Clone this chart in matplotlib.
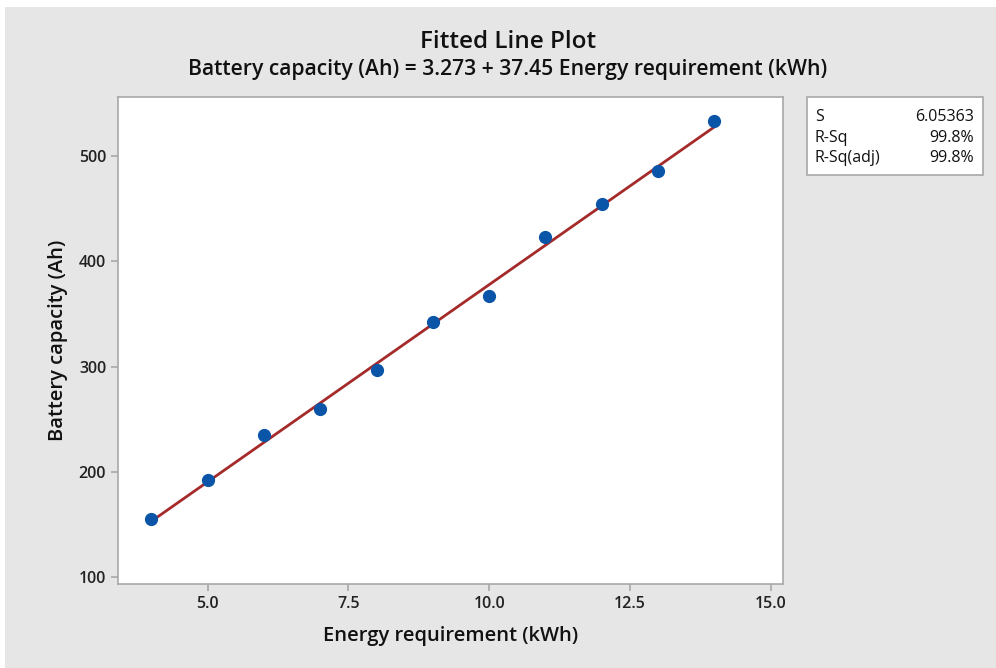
import matplotlib
matplotlib.use('Agg')
import matplotlib.pyplot as plt
from matplotlib.patches import Rectangle
import numpy as np

plt.rcParams['font.family'] = ['Open Sans', 'DejaVu Sans']

energy = [4, 5, 6, 7, 8, 9, 10, 11, 12, 13, 14]
capacity = [155.1, 192.1, 234.9, 259.5, 296.6, 342.2, 366.9, 422.9, 454.2, 485.6, 533.0]
b0, b1 = 3.273, 37.45
stats_names = ['S', 'R-Sq', 'R-Sq(adj)']
stats_vals = ['6.05363', '99.8%', '99.8%']
xticks = [5.0, 7.5, 10.0, 12.5, 15.0]
yticks = [100, 200, 300, 400, 500]

W, H = 996, 668
fig = plt.figure(figsize=(W / 100, H / 100), dpi=100, facecolor='white')
bg = '#e6e6e6'
fig.patches.append(Rectangle((5 / W, 0), 1 - 5 / W, 1 - 7 / H, transform=fig.transFigure,
                             facecolor=bg, edgecolor='none', zorder=-10))

# axes box in pixels: left 118, right 783, top 97, bottom 584
ax = fig.add_axes([118 / W, 1 - 584 / H, (783 - 118) / W, (584 - 97) / H])
ax.set_facecolor('white')
xs = np.array([min(energy), max(energy)])
ax.plot(xs, b0 + b1 * xs, color='#a52a2a', lw=2, zorder=2)
ax.plot(energy, capacity, 'o', color='#0a55a8', ms=8.5, zorder=3)

ax.set_xlim(3.405, 15.22)
ax.set_ylim(93.4, 556)
ax.set_xticks(xticks)
ax.set_xticklabels([f'{t:.1f}' for t in xticks])
ax.set_yticks(yticks)
for s in ax.spines.values():
    s.set_color('#a8a8a8'); s.set_linewidth(1.2)
ax.tick_params(colors='#a8a8a8', labelcolor='#222222', labelsize=11.5, length=5, width=1.2)
for lbl in ax.get_xticklabels() + ax.get_yticklabels():
    lbl.set_fontweight('semibold')
ax.set_xlabel('Energy requirement (kWh)', fontsize=14.5, color='#111111', labelpad=10,
              fontweight='semibold')
ax.set_ylabel('Battery capacity (Ah)', fontsize=14.5, color='#111111', labelpad=8,
              fontweight='semibold')

cx = 508 / W
fig.text(cx, 1 - 42 / H, 'Fitted Line Plot', ha='center', va='center',
         fontsize=17.5, color='#111111', fontweight='semibold')
fig.text(cx, 1 - 70 / H,
         f'Battery capacity (Ah) = {b0} + {b1} Energy requirement (kWh)',
         ha='center', va='center', fontsize=15.2, color='#111111', fontweight='semibold')

# stats box
bx0, bx1, by0, by1 = 807, 983, 97, 175
fig.patches.append(Rectangle((bx0 / W, 1 - by1 / H), (bx1 - bx0) / W, (by1 - by0) / H,
                             transform=fig.transFigure, facecolor='white',
                             edgecolor='#a8a8a8', lw=1.2))
for i, (n, v) in enumerate(zip(stats_names, stats_vals)):
    yy = 1 - (117 + i * 20.5) / H
    fig.text(815 / W, yy, n, ha='left', va='center', fontsize=11.5, color='#111111')
    fig.text(974 / W, yy, v, ha='right', va='center', fontsize=11.5, color='#111111')

fig.savefig('out.png', dpi=100, facecolor='white')
